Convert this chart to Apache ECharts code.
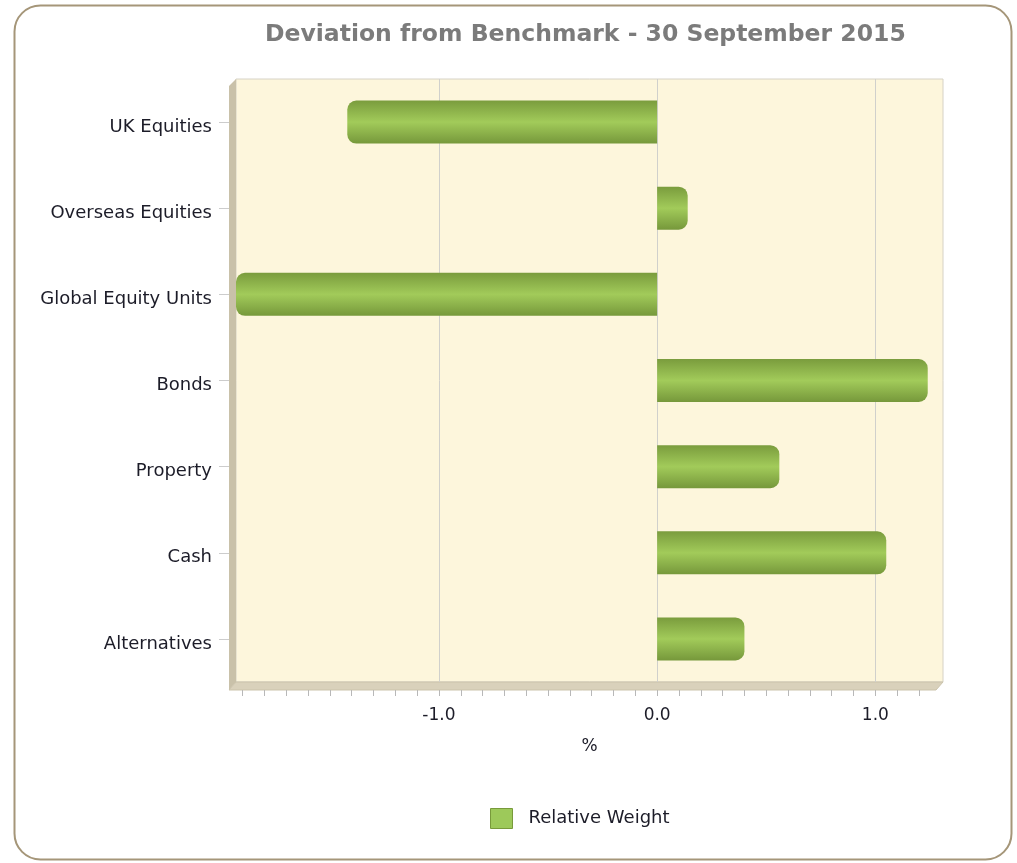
<!DOCTYPE html>
<html>
<head>
<meta charset="utf-8">
<script src="https://cdn.jsdelivr.net/npm/echarts@6/dist/echarts.min.js"></script>
<style>
  html, body { margin: 0; padding: 0; background: #fff; }
  #chart { width: 1017px; height: 863px; }
</style>
</head>
<body>
<div id="chart"></div>
<script>
// data
const categories = ['UK Equities', 'Overseas Equities', 'Global Equity Units', 'Bonds', 'Property', 'Cash', 'Alternatives']
const relativeWeight = [-1.42, 0.14, -1.93, 1.24, 0.56, 1.05, 0.4]
const majorTicks = [-1, 0, 1]
const minorTicks = [-1.9, -1.8, -1.7, -1.6, -1.5, -1.4, -1.3, -1.2, -1.1, -1.0, -0.9, -0.8, -0.7, -0.6, -0.5, -0.4, -0.3, -0.2, -0.1, 0,
  0.1, 0.2, 0.3, 0.4, 0.5, 0.6, 0.7, 0.8, 0.9, 1.0, 1.1, 1.2]

const font = 'DejaVu Sans, Verdana, sans-serif'

const barColor = {
  type: 'linear', x: 0, y: 0, x2: 0, y2: 1,
  colorStops: [
    { offset: 0, color: '#7a9c3d' },
    { offset: 0.5, color: '#a2cb5a' },
    { offset: 1, color: '#76983b' },
  ],
}

const chart = echarts.init(document.getElementById('chart'))
chart.setOption({
  animation: false,
  title: {
    text: 'Deviation from Benchmark - 30 September 2015',
    left: 260,
    top: 18,
    textStyle: { color: '#7b7b7b', fontSize: 23.5, fontWeight: 'bold', fontFamily: font },
  },
  legend: {
    left: 485,
    top: 803,
    icon: 'rect',
    itemWidth: 22,
    itemHeight: 20,
    itemGap: 10,
    itemStyle: { color: '#9dc95a', borderColor: '#789a3b', borderWidth: 1 },
    textStyle: { color: '#1c1c28', fontSize: 18, fontFamily: font, padding: [0, 0, 0, 11] },
    data: ['Relative Weight'],
  },
  grid: {
    left: 236, right: 74, top: 79, bottom: 181,
    show: true,
    backgroundColor: '#fdf6dc',
    borderColor: '#d6d2c6',
    borderWidth: 1,
  },
  xAxis: {
    type: 'value',
    min: -1.93,
    max: 1.31,
    offset: 8,
    name: '%',
    nameLocation: 'middle',
    nameGap: 48,
    nameTextStyle: { color: '#1c1c28', fontSize: 17, fontFamily: font },
    axisLine: { show: false, onZero: false },
    splitLine: { show: false },
    axisTick: { show: true, length: 6, lineStyle: { color: '#b8b8b8' }, customValues: minorTicks },
    axisLabel: {
      customValues: majorTicks,
      margin: 17,
      color: '#1c1c28',
      fontSize: 17,
      fontFamily: font,
      formatter: (v) => v.toFixed(1),
    },
  },
  yAxis: {
    type: 'category',
    inverse: true,
    data: categories,
    offset: 7,
    axisLine: { show: false, onZero: false },
    axisTick: { show: true, length: 10, alignWithLabel: true, lineStyle: { color: '#cccccc' } },
    axisLabel: {
      margin: 17, color: '#1c1c28', fontSize: 18, fontFamily: font,
      verticalAlign: 'top', lineHeight: 10,
    },
    splitLine: { show: false },
  },
  graphic: [
    {
      type: 'rect',
      shape: { x: 14.5, y: 5.5, width: 997, height: 854, r: 26 },
      style: { fill: 'none', stroke: '#a59679', lineWidth: 2 },
      silent: true,
    },
    {
      type: 'polygon',
      shape: { points: [[229, 86], [236, 79], [236, 682], [229, 690]] },
      style: { fill: '#c9c1a9' },
      silent: true,
    },
    {
      type: 'polygon',
      shape: { points: [[229, 690], [236, 682], [943, 682], [936, 690]] },
      style: { fill: '#d9d1bb', stroke: '#cbc3ab', lineWidth: 1 },
      silent: true,
    },
  ],
  series: [
    {
      name: 'Relative Weight',
      type: 'bar',
      barWidth: 43,
      data: relativeWeight.map((v) => ({
        value: v,
        itemStyle: { borderRadius: v < 0 ? [9, 0, 0, 9] : [0, 9, 9, 0] },
      })),
      itemStyle: { color: barColor },
      markLine: {
        silent: true,
        symbol: 'none',
        label: { show: false },
        lineStyle: { color: '#d0d0cc', type: 'solid', width: 1 },
        data: majorTicks.map((t) => ({ xAxis: t })),
        z: 1,
      },
      z: 3,
    },
  ],
})
</script>
</body>
</html>
